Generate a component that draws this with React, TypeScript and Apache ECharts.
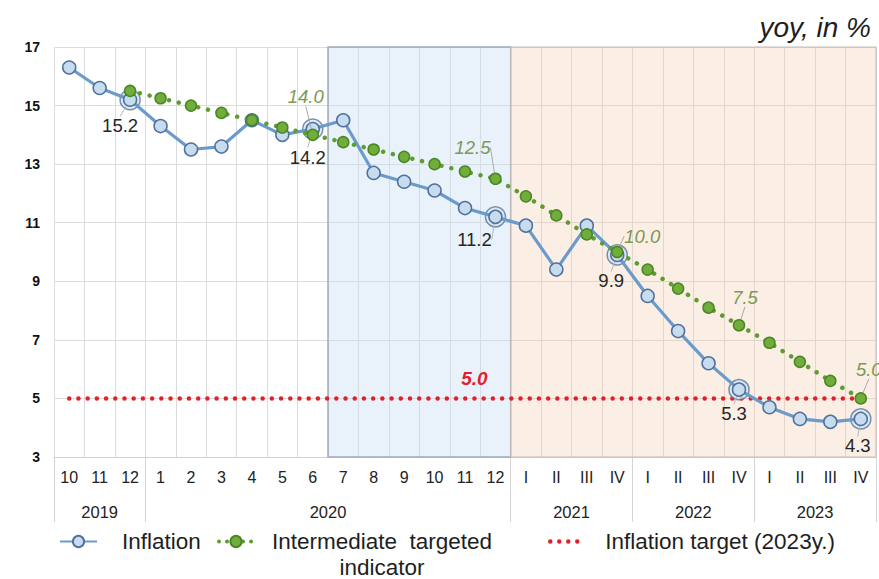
import React, { useEffect, useRef } from 'react';
import * as echarts from 'echarts';

// ---- data -------------------------------------------------------------
const yearLabels = ['2019', '2020', '2021', '2022', '2023'];
const periods2019 = ['10', '11', '12'];
const periods2020 = ['1', '2', '3', '4', '5', '6', '7', '8', '9', '10', '11', '12'];
const quarterLabels = ['I', 'II', 'III', 'IV'];
const yearPeriods = [periods2019, periods2020, quarterLabels, quarterLabels, quarterLabels];

// Inflation, yoy %
const inflation = [
  16.3, 15.6, 15.2,
  14.3, 13.5, 13.6, 14.5, 14.0, 14.2, 14.5, 12.7, 12.4, 12.1, 11.5, 11.2,
  10.9, 9.4, 10.9, 9.9,
  8.5, 7.3, 6.2, 5.3,
  4.7, 4.3, 4.2, 4.3,
];

// Intermediate targeted indicator, %
const intermediateTarget = [
  null, null, 15.5,
  15.25, 15.0, 14.75, 14.5, 14.25, 14.0, 13.75, 13.5, 13.25, 13.0, 12.75, 12.5,
  11.9, 11.25, 10.6, 10.0,
  9.4, 8.75, 8.1, 7.5,
  6.9, 6.25, 5.6, 5.0,
];

// Inflation target for 2023, %
const inflationTarget2023 = 5.0;

// Periods whose values are annotated
const inflationLabelled = ['12 2019', '6 2020', '12 2020', 'IV 2021', 'IV 2022', 'IV 2023'];
const targetLabelled = ['6 2020', '12 2020', 'IV 2021', 'IV 2022', 'IV 2023'];
const targetLineLabelAt = '12 2020';

// Shaded phases
const monthlyPhase = ['7 2020', '12 2020'];
const quarterlyPhase = ['I 2021', 'IV 2023'];

// ---- derived ----------------------------------------------------------
const categories = yearLabels.flatMap((y, i) => yearPeriods[i].map((p) => `${p} ${y}`));
const yearStarts: number[] = [];
const yearCenters: number[] = [];
{
  let start = 0;
  yearPeriods.forEach((p) => {
    yearStarts.push(start);
    yearCenters.push(start + p.length / 2);
    start += p.length;
  });
}

const SANS = '"Liberation Sans", Arial, sans-serif';
const TEXT = '#1e1e1e';
const RED = '#e3202a';
const GREEN_LINE = '#5f9c30';

// label placement relative to the point (style)
const inflationLabelShift: Record<string, [number, number]> = {
  '12 2019': [-10, 26],
  '6 2020': [-5, 28],
  '12 2020': [-21, 23],
  'IV 2021': [-6, 26],
  'IV 2022': [-5, 24],
  'IV 2023': [-3, 27],
};
const targetLabelShift: Record<string, [number, number]> = {
  '6 2020': [-7, -38],
  '12 2020': [-23, -31],
  'IV 2021': [25, -16],
  'IV 2022': [6, -28],
  'IV 2023': [8, -29],
};

function buildOption(): echarts.EChartsOption {
  const inflationData = inflation.map((v, i) =>
    inflationLabelled.includes(categories[i]) ? { value: v, label: { show: true } } : v
  );
  const ringData = inflation.map((v, i) => (inflationLabelled.includes(categories[i]) ? v : null));
  const targetData = intermediateTarget.map((v, i) =>
    targetLabelled.includes(categories[i]) ? { value: v, label: { show: true } } : v
  );
  const goalData = categories.map(() => inflationTarget2023);

  const blueFrom = categories.indexOf(monthlyPhase[0]);
  const blueTo = categories.indexOf(monthlyPhase[1]) + 1;
  const peachFrom = categories.indexOf(quarterlyPhase[0]);
  const peachTo = categories.indexOf(quarterlyPhase[1]) + 1;

  const legendText = { fontFamily: SANS, fontSize: 22.5, color: TEXT };

  return {
    animation: false,
    backgroundColor: '#ffffff',
    grid: { left: 54, top: 47, right: -4, bottom: 122, containLabel: false },
    graphic: [
      {
        type: 'text',
        x: 871,
        y: 27,
        style: {
          text: 'yoy, in %',
          fill: TEXT,
          fontSize: 28,
          fontStyle: 'italic',
          fontFamily: SANS,
          align: 'right',
          verticalAlign: 'middle',
        },
      },
    ],
    legend: [
      {
        data: ['Inflation'],
        left: 54,
        top: 525,
        itemWidth: 37,
        itemHeight: 14,
        selectedMode: false,
        textStyle: { ...legendText, padding: [0, 0, 0, 20] },
      },
      {
        data: ['Intermediate targeted indicator'],
        left: 212,
        top: 525,
        itemWidth: 34,
        itemHeight: 14,
        selectedMode: false,
        lineStyle: { width: 4, type: [0.01, 8], cap: 'round', color: GREEN_LINE },
        formatter: () => '{a|Intermediate  targeted}\n{a|indicator}',
        textStyle: {
          ...legendText,
          padding: [26, 0, 0, 12],
          rich: {
            a: { ...legendText, width: 224, align: 'center', lineHeight: 26 },
          },
        },
      },
      {
        data: ['Inflation target (2023y.)'],
        left: 543,
        top: 525,
        itemWidth: 34,
        itemHeight: 14,
        selectedMode: false,
        lineStyle: { width: 4.5, type: [0.01, 9], cap: 'round', color: RED },
        itemStyle: { opacity: 0 },
        textStyle: { ...legendText, padding: [0, 0, 0, 16] },
      },
    ],
    xAxis: [
      {
        type: 'category',
        data: categories,
        boundaryGap: true,
        axisLine: { show: true, lineStyle: { color: '#d2d2d2', width: 1 } },
        axisTick: {
          show: true,
          length: 65,
          interval: (index: number) => yearStarts.includes(index),
          lineStyle: { color: '#d4d4d4', width: 1 },
        },
        axisLabel: {
          interval: 0,
          margin: 12,
          color: '#222',
          fontFamily: SANS,
          fontSize: 16,
          formatter: (v: string) => v.split(' ')[0],
        },
        splitLine: { show: true, interval: 0, lineStyle: { color: '#dcdcdc', width: 1 } },
      },
      {
        type: 'value',
        min: 0,
        max: categories.length,
        interval: 0.5,
        position: 'bottom',
        axisLine: { show: false },
        axisTick: { show: false },
        splitLine: { show: false },
        axisLabel: {
          margin: 46,
          color: '#222',
          fontFamily: SANS,
          fontSize: 16.5,
          showMinLabel: true,
          showMaxLabel: true,
          formatter: (v: number) => {
            const i = yearCenters.findIndex((c) => Math.abs(c - v) < 1e-6);
            return i >= 0 ? yearLabels[i] : '';
          },
        },
      },
    ],
    yAxis: {
      type: 'value',
      min: 3,
      max: 17,
      interval: 2,
      axisLine: { show: false },
      axisTick: { show: false },
      axisLabel: {
        margin: 14,
        color: '#111',
        fontWeight: 'bold',
        fontFamily: SANS,
        fontSize: 14,
      },
      splitLine: { show: true, lineStyle: { color: '#dcdcdc', width: 1 } },
    },
    series: [
      {
        // phase shading
        type: 'line',
        xAxisIndex: 1,
        data: [],
        silent: true,
        markArea: {
          silent: true,
          data: [
            [
              {
                xAxis: blueFrom,
                itemStyle: {
                  color: 'rgba(200,222,245,0.4)',
                  borderColor: '#9dabbd',
                  borderWidth: 1.5,
                },
              },
              { xAxis: blueTo },
            ],
            [
              {
                xAxis: peachFrom,
                itemStyle: {
                  color: 'rgba(242,200,165,0.3)',
                  borderColor: '#c4bcb7',
                  borderWidth: 1,
                },
              },
              { xAxis: peachTo },
            ],
          ],
        },
      },
      {
        name: 'Inflation target (2023y.)',
        type: 'line',
        data: goalData,
        symbol: 'none',
        z: 3,
        lineStyle: { color: RED, width: 4.5, type: [0.01, 9.2], cap: 'round' },
        itemStyle: { color: RED, opacity: 0 },
        markPoint: {
          symbol: 'circle',
          symbolSize: 0,
          itemStyle: { opacity: 1 },
          data: [{ coord: [targetLineLabelAt, inflationTarget2023], value: inflationTarget2023 }],
          label: {
            show: true,
            position: 'inside',
            offset: [-21, -20],
            formatter: (p: any) => Number(p.value).toFixed(1),
            color: RED,
            fontFamily: SANS,
            fontSize: 19,
            fontWeight: 'bold',
            fontStyle: 'italic',
          },
        },
      },
      {
        // outer rings on annotated inflation points
        type: 'scatter',
        data: ringData,
        symbol: 'circle',
        symbolSize: 20,
        z: 3,
        silent: true,
        itemStyle: { color: 'rgba(215,229,244,0.95)', borderColor: '#56779e', borderWidth: 1.5 },
      },
      {
        name: 'Inflation',
        type: 'line',
        data: inflationData,
        z: 4,
        symbol: 'circle',
        symbolSize: 13,
        showAllSymbol: true,
        lineStyle: { color: '#6a9bcb', width: 3.2 },
        itemStyle: { color: '#c8dcf0', borderColor: '#50719a', borderWidth: 1.5 },
        label: {
          show: false,
          position: 'inside',
          formatter: (p: any) => Number(p.value).toFixed(1),
          color: '#262626',
          fontFamily: SANS,
          fontSize: 18.5,
        },
        labelLine: { show: true, lineStyle: { color: '#b8b8b8', width: 1 } },
        labelLayout: (params: any) => {
          const s = inflationLabelShift[categories[params.dataIndex]];
          return s ? { dx: s[0], dy: s[1] } : {};
        },
      },
      {
        name: 'Intermediate targeted indicator',
        type: 'line',
        data: targetData,
        z: 5,
        symbol: 'circle',
        symbolSize: 11,
        showAllSymbol: true,
        connectNulls: false,
        lineStyle: { color: GREEN_LINE, width: 4.5, type: [0.01, 10], cap: 'round' },
        itemStyle: { color: '#70ad3a', borderColor: '#4b8626', borderWidth: 1.5 },
        label: {
          show: false,
          position: 'inside',
          formatter: (p: any) => Number(p.value).toFixed(1),
          color: '#7c9a52',
          fontFamily: SANS,
          fontSize: 18.5,
          fontStyle: 'italic',
        },
        labelLine: { show: true, lineStyle: { color: '#aaaaaa', width: 1 } },
        labelLayout: (params: any) => {
          const s = targetLabelShift[categories[params.dataIndex]];
          return s ? { dx: s[0], dy: s[1] } : {};
        },
      },
    ],
  } as echarts.EChartsOption;
}

export default function App() {
  const ref = useRef<HTMLDivElement>(null);
  useEffect(() => {
    if (!ref.current) return;
    const chart = echarts.init(ref.current, undefined, { renderer: 'svg' });
    chart.setOption(buildOption());
    return () => chart.dispose();
  }, []);
  return (
    <div
      ref={ref}
      style={{ position: 'absolute', left: 0, top: 0, width: 879, height: 579, background: '#fff' }}
    />
  );
}
